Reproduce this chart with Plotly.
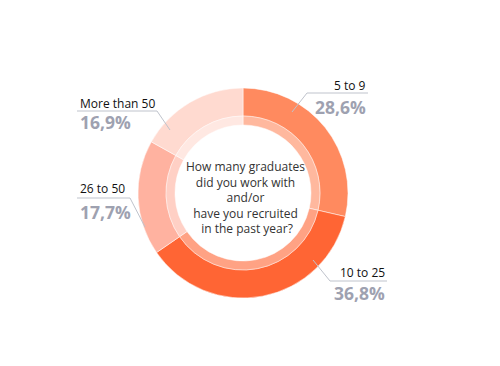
import plotly.graph_objects as go

# ---- data ----
categories = ["5 to 9", "10 to 25", "26 to 50", "More than 50"]
values = [28.6, 36.8, 17.7, 16.9]
pct_labels = ["28,6%", "36,8%", "17,7%", "16,9%"]
center_title = "How many graduates<br>did you work with<br>and/or<br>have you recruited<br> in the past year?"

# ---- style / layout ----
colors = ["#FF8A5F", "#FF6534", "#FFB2A0", "#FFDAD0"]
W, H = 500, 366
cx, cy = 243, 193          # pixel centre of donut
r_out, r_mid, r_in = 105, 77, 68

def dom(r):
    return dict(x=[(cx - r) / W, (cx + r) / W],
                y=[(H - cy - r) / H, (H - cy + r) / H])

fig = go.Figure()
fig.add_trace(go.Pie(labels=categories, values=values, sort=False,
                     direction="clockwise", rotation=0, hole=r_mid / r_out,
                     domain=dom(r_out), textinfo="none", hoverinfo="label+percent",
                     marker=dict(colors=colors, line=dict(color="rgba(255,255,255,0.5)", width=1)),
                     showlegend=False))
fig.add_trace(go.Pie(labels=categories, values=values, sort=False,
                     direction="clockwise", rotation=0, hole=r_in / r_mid,
                     domain=dom(r_mid), textinfo="none", hoverinfo="skip",
                     opacity=0.6,
                     marker=dict(colors=colors, line=dict(color="rgba(255,255,255,0.5)", width=1)),
                     showlegend=False))

# label placement (layout only): leader polyline, text x, anchor, label y, pct y
placements = [
    dict(pts=[(292, 112), (307, 93), (368, 93)], x=368, anchor="right", ly=85, py=106.5),
    dict(pts=[(313, 260), (330, 281), (387, 281)], x=387, anchor="right", ly=272, py=293),
    dict(pts=[(145, 227), (130, 198), (77, 198)], x=78, anchor="left", ly=188, py=211.5),
    dict(pts=[(170, 130), (157, 111), (77, 111)], x=78, anchor="left", ly=103.5, py=121.5),
]

shapes = []
annotations = []
for cat, pct, p in zip(categories, pct_labels, placements):
    path = "M " + " L ".join(f"{x},{y}" for x, y in p["pts"])
    shapes.append(dict(type="path", path=path, xref="x", yref="y",
                       line=dict(color="#BFC3CC", width=1)))
    annotations.append(dict(x=p["x"], y=p["ly"], xref="x", yref="y", text=cat,
                            showarrow=False, xanchor=p["anchor"], yanchor="middle",
                            font=dict(family="Open Sans", size=12, color="#111111")))
    annotations.append(dict(x=p["x"], y=p["py"], xref="x", yref="y", text=f"<b>{pct}</b>",
                            showarrow=False, xanchor=p["anchor"], yanchor="middle",
                            font=dict(family="Open Sans", size=17.5, color="#9EA1B0")))

annotations.append(dict(x=245, y=197, xref="x", yref="y", text=center_title,
                        showarrow=False, xanchor="center", yanchor="middle",
                        font=dict(family="Open Sans", size=12, color="#333333")))

fig.update_layout(
    width=W, height=H, margin=dict(l=0, r=0, t=0, b=0),
    paper_bgcolor="white", plot_bgcolor="rgba(0,0,0,0)",
    xaxis=dict(range=[0, W], visible=False, fixedrange=True),
    yaxis=dict(range=[H, 0], visible=False, fixedrange=True),
    shapes=shapes, annotations=annotations,
)

fig.write_html("out.html")
